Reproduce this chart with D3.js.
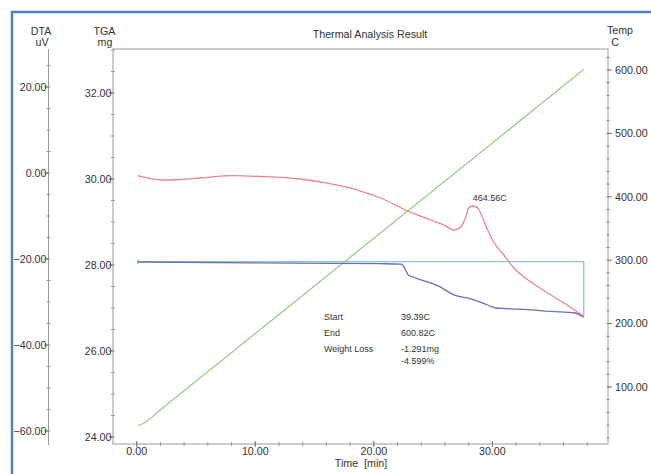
<!DOCTYPE html>
<html>
<head>
<meta charset="utf-8">
<script src="https://cdn.jsdelivr.net/npm/d3@7"></script>
<style>
  html, body { margin: 0; padding: 0; background: #fff; }
  svg { display: block; font-family: "Liberation Sans", Arial, sans-serif; }
  .tick-lbl { font-size: 10.7px; fill: #333; }
  .axis-ttl { font-size: 10.7px; fill: #333; }
  .note { font-size: 9px; fill: #333; }
</style>
</head>
<body>
<svg id="chart" width="651" height="474"></svg>
<script>
// ── Data ─────────────────────────────────────────────────────────────────────
const xMajor   = [0, 10, 20, 30];                 // Time [min]
const dtaMajor = [20, 0, -20, -40, -60];          // uV
const tgaMajor = [32, 30, 28, 26, 24];            // mg
const tmpMajor = [600, 500, 400, 300, 200, 100];  // C

// DTA curve (red)
const dtaTime = [0.1, 1.12, 2.14, 3.66, 5.35, 8.14, 10.42, 13.8, 17.24, 18.88, 20.57,
                 22.68, 24.79, 26.06, 26.74, 27.33, 27.75, 28.0, 28.34, 28.76, 29.18,
                 29.61, 30.11, 30.96, 31.81, 33.24, 34.68, 36.03, 37.68];
const dtaVal  = [-0.63, -1.28, -1.63, -1.51, -1.16, -0.63, -0.81, -1.4, -3.02, -4.19, -5.81,
                 -8.6, -10.93, -12.3, -13.26, -12.56, -10.23, -8.14, -7.67, -8.14, -10.47,
                 -13.26, -16.05, -19.07, -22.09, -25.35, -27.91, -30.23, -33.26];

// TGA curve (blue)
const tgaTime = [0.1, 9.6, 20.6, 22.3, 22.5, 22.7, 22.9, 23.5, 24.5, 25.6, 26.7, 28.2,
                 29.6, 30.3, 31.6, 33.0, 34.9, 36.9, 37.7];
const tgaVal  = [28.07, 28.05, 28.03, 28.02, 27.98, 27.87, 27.77, 27.70, 27.61, 27.49,
                 27.31, 27.21, 27.07, 27.0, 26.98, 26.96, 26.92, 26.89, 26.786];

// Temperature program (green)
const tmpTime = [0.1, 0.5, 1.0, 1.5, 2.0, 3.0, 10, 20, 30, 37.7];
const tmpVal  = [39.39, 42, 48, 56, 64, 79, 184.3, 334.7, 485, 600.82];

// Weight-loss analysis bracket
const wlStart = { t: 0.1, mg: 28.077 };
const wlEnd   = { t: 37.7, mg: 26.786 };
const peak    = { t: 28.34, v: -7.67, label: "464.56C" };
const notes   = [["Start", "39.39C"], ["End", "600.82C"], ["Weight Loss", "-1.291mg"], ["", "-4.599%"]];

// ── Layout ───────────────────────────────────────────────────────────────────
const L = 113, R = 608, T = 49, B = 444;
const DTA_X = 48.5;

const svg = d3.select("#chart");

const x    = d3.scaleLinear().domain([-2, 39.75]).range([L, R]);
const yDta = d3.scaleLinear().domain([-60, 20]).range([431, 87]);
const yTga = d3.scaleLinear().domain([24, 32]).range([437, 93]);
const yTmp = d3.scaleLinear().domain([100, 600]).range([387, 70]);

const axisCol = "#9a9a9a";

// Outer blue frame (runs off the right / bottom edges)
svg.append("path")
  .attr("d", `M12,474 L12,12 L651,12`)
  .attr("fill", "none").attr("stroke", "#4f81bd").attr("stroke-width", 2.5);

// Plot box
svg.append("rect")
  .attr("x", L).attr("y", T).attr("width", R - L).attr("height", B - T)
  .attr("fill", "none").attr("stroke", axisCol).attr("stroke-width", 1);

// DTA axis line
svg.append("line")
  .attr("x1", DTA_X).attr("x2", DTA_X).attr("y1", T).attr("y2", B + 1)
  .attr("stroke", axisCol).attr("stroke-width", 1);

// ── Ticks helper ─────────────────────────────────────────────────────────────
function vTicks(xPos, scale, minor, major, dir, fmt, lblX, anchor) {
  const g = svg.append("g");
  g.selectAll("line.minor").data(minor).join("line")
    .attr("x1", xPos - 2).attr("x2", xPos + 2)
    .attr("y1", d => scale(d)).attr("y2", d => scale(d))
    .attr("stroke", axisCol);
  g.selectAll("line.major").data(major).join("line")
    .attr("x1", xPos).attr("x2", xPos + dir * 4)
    .attr("y1", d => scale(d)).attr("y2", d => scale(d))
    .attr("stroke", "#777");
  g.selectAll("text").data(major).join("text")
    .attr("class", "tick-lbl")
    .attr("x", lblX).attr("y", d => scale(d)).attr("dy", "0.35em")
    .attr("text-anchor", anchor)
    .text(fmt);
}
const f2 = d3.format(".2f");

vTicks(DTA_X, yDta, d3.range(-60, 26, 5), dtaMajor, -1, f2, DTA_X - 2, "end");
vTicks(L, yTga, d3.range(24, 33.1, 0.5), tgaMajor, -1, f2, L - 1.5, "end");
vTicks(R, yTmp, d3.range(20, 621, 20), tmpMajor, 1, f2, R + 7, "start");

// Time axis ticks
const gx = svg.append("g");
gx.selectAll("line.minor").data(d3.range(0, 39, 2)).join("line")
  .attr("x1", d => x(d)).attr("x2", d => x(d))
  .attr("y1", B - 2).attr("y2", B + 2).attr("stroke", axisCol);
gx.selectAll("line.major").data(xMajor).join("line")
  .attr("x1", d => x(d)).attr("x2", d => x(d))
  .attr("y1", B - 3).attr("y2", B + 3).attr("stroke", "#777");
gx.selectAll("text").data(xMajor).join("text")
  .attr("class", "tick-lbl")
  .attr("x", d => x(d)).attr("y", 455)
  .attr("text-anchor", "middle").text(f2);

// Axis titles
const titles = [
  ["DTA", 41, 35], ["uV", 42, 46],
  ["TGA", 104.5, 35], ["mg", 105, 46],
  ["Temp", 620, 34], ["C", 615, 46],
  ["Thermal Analysis Result", 370, 38],
];
titles.forEach(([s, tx, ty]) => {
  svg.append("text").attr("class", "axis-ttl")
    .attr("x", tx).attr("y", ty).attr("text-anchor", "middle").text(s);
});
svg.append("text").attr("class", "axis-ttl")
  .attr("x", 361).attr("y", 467).attr("text-anchor", "middle")
  .style("white-space", "pre").text("Time  [min]");

// ── Curves ───────────────────────────────────────────────────────────────────
const lineOf = (ts, vs, ys) => d3.line()
  .x(i => x(ts[i])).y(i => ys(vs[i]))
  .curve(d3.curveMonotoneX)(d3.range(ts.length));

svg.append("path")
  .attr("d", lineOf(tmpTime, tmpVal, yTmp))
  .attr("fill", "none").attr("stroke", "#94cc88").attr("stroke-width", 1.2);

// weight-loss bracket
svg.append("path")
  .attr("d", `M${x(wlStart.t)},${yTga(wlStart.mg)} L${x(wlEnd.t)},${yTga(wlStart.mg)} L${x(wlEnd.t)},${yTga(wlEnd.mg)}`)
  .attr("fill", "none").attr("stroke", "#8cc3e8").attr("stroke-width", 1.3);
svg.append("line")
  .attr("x1", x(wlStart.t)).attr("x2", x(wlStart.t))
  .attr("y1", yTga(wlStart.mg) - 2).attr("y2", yTga(wlStart.mg) + 2)
  .attr("stroke", "#6f86c6");

svg.append("path")
  .attr("d", lineOf(tgaTime, tgaVal, yTga))
  .attr("fill", "none").attr("stroke", "#6671b9").attr("stroke-width", 1.3);

svg.append("path")
  .attr("d", lineOf(dtaTime, dtaVal, yDta))
  .attr("fill", "none").attr("stroke", "#e8858e").attr("stroke-width", 1.3);

// ── Annotations ──────────────────────────────────────────────────────────────
svg.append("text").attr("class", "note")
  .attr("x", x(peak.t)).attr("y", yDta(peak.v) - 5).text(peak.label);

notes.forEach(([k, v], i) => {
  const ty = [319.5, 336, 352, 364][i];
  svg.append("text").attr("class", "note").attr("x", 324).attr("y", ty).text(k);
  svg.append("text").attr("class", "note").attr("x", 401).attr("y", ty).text(v);
});
</script>
</body>
</html>
